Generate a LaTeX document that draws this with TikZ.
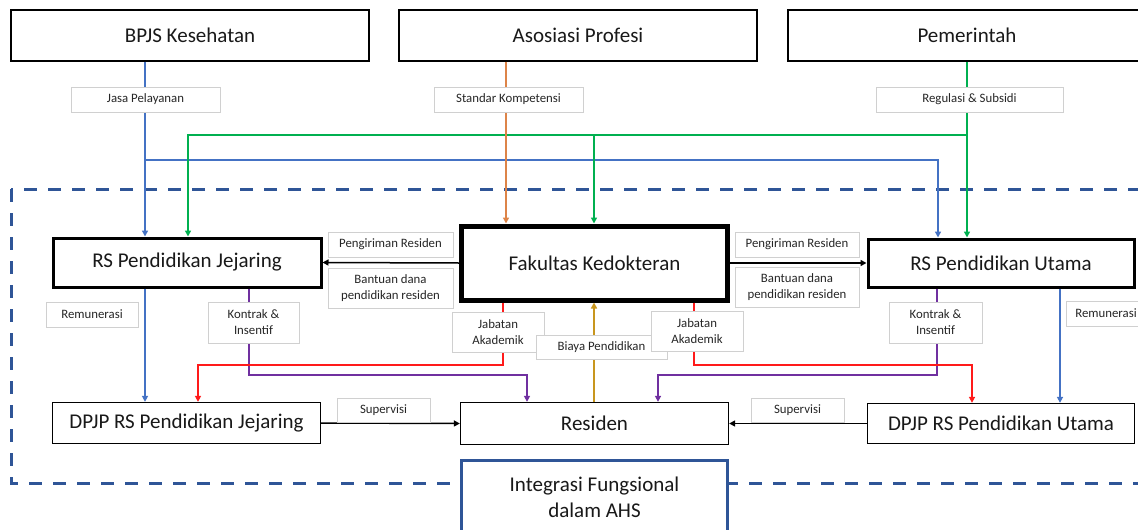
\documentclass[tikz,border=0pt]{standalone}
\usepackage{fontspec}
\setmainfont{Carlito}
\usetikzlibrary{arrows.meta,calc}
\definecolor{cb}{HTML}{4472C4}
\definecolor{cg}{HTML}{00B050}
\definecolor{co}{HTML}{DD8448}
\definecolor{cgold}{HTML}{C8961E}
\definecolor{cr}{HTML}{FF1A1A}
\definecolor{cp}{HTML}{7030A0}
\definecolor{dblue}{HTML}{2F5597}
\definecolor{labgray}{HTML}{D0D0D0}
\definecolor{labtext}{HTML}{262626}
\begin{document}
\begin{tikzpicture}[x=1pt,y=-1pt,
  box/.style={draw=black,line width=1.3pt,fill=white,inner sep=0pt,align=center,
    font=\fontsize{21}{26}\selectfont,text=black!90},
  rsbox/.style={box,line width=3pt},
  fkbox/.style={box,line width=5pt},
  intbox/.style={box,draw=dblue,line width=3pt},
  lab/.style={draw=labgray,line width=0.8pt,fill=white,inner sep=0pt,align=center,
    font=\fontsize{12.8}{16}\selectfont,text=labtext},
  arr/.style={-{Triangle[length=6pt,width=6pt]}},
  conn/.style={line width=1.5pt,arr}]
\useasboundingbox (0,0) rectangle (1138,530);
\clip (0,0) rectangle (1138,530);
% dashed frame
\draw[dblue,line width=3pt,dash pattern=on 13pt off 11pt] (11,189) rectangle (1170,483);
% main boxes
\node[box,minimum width=358pt,minimum height=51pt] (bpjs) at (190,35.5) {BPJS Kesehatan};
\node[box,minimum width=358pt,minimum height=51pt] (asos) at (578,35.5) {Asosiasi Profesi};
\node[box,minimum width=358pt,minimum height=51pt] (pem) at (967,35.5) {Pemerintah};
\node[rsbox,minimum width=268pt,minimum height=49pt] (rsj) at (187,262.5) {RS Pendidikan Jejaring};
\node[fkbox,minimum width=266pt,minimum height=74pt] (fk) at (594.5,263) {Fakultas Kedokteran};
\node[rsbox,minimum width=266pt,minimum height=48pt] (rsu) at (1001,263) {RS Pendidikan Utama};
\node[box,minimum width=268pt,minimum height=41pt] (dpjpj) at (186.5,423) {DPJP RS Pendidikan Jejaring};
\node[box,minimum width=268pt,minimum height=42pt] (res) at (594.5,423.5) {Residen};
\node[box,minimum width=267pt,minimum height=40pt] (dpjpu) at (1001,423.5) {DPJP RS Pendidikan Utama};
\node[intbox,minimum width=266pt,minimum height=74pt] (integ) at (594.5,497) {Integrasi Fungsional\\dalam AHS};
% column / row coordinates
\coordinate (xb1) at (145,0);
\coordinate (xg1) at (188,0);
\coordinate (xo) at (506,0);
\coordinate (xg2) at (594,0);
\coordinate (xb2) at (938,0);
\coordinate (xg3) at (967,0);
\coordinate (xp1) at (249,0);
\coordinate (xp1a) at (527,0);
\coordinate (xr1) at (503,0);
\coordinate (xr1a) at (198,0);
\coordinate (xr2) at (694,0);
\coordinate (xr2a) at (972,0);
\coordinate (xp2) at (937,0);
\coordinate (xp2a) at (658,0);
\coordinate (xb3) at (1060,0);
\coordinate (yb) at (0,160);
\coordinate (yg) at (0,135);
\coordinate (yr) at (0,365);
\coordinate (yp) at (0,375);
% connectors from the top
\draw[cb,conn] (bpjs.south -| xb1) -- (rsj.north -| xb1);
\draw[cb,conn] (xb1 |- yb) -- (xb2 |- yb) -- (rsu.north -| xb2);
\draw[cg,line width=2.4pt,arr] (pem.south -| xg3) -- (rsu.north -| xg3);
\draw[cg,line width=2.4pt,arr] (xg3 |- yg) -- (xg2 |- yg) -- (fk.north -| xg2);
\draw[cg,line width=1.5pt,arr] (xg2 |- yg) -- (xg1 |- yg) -- (rsj.north -| xg1);
\draw[co,conn] (asos.south -| xo) -- (fk.north -| xo);
% horizontal flows
\draw[black,conn] (fk.west) -- (rsj.east);
\draw[black,conn] (fk.east) -- (rsu.west);
\draw[black,conn] (dpjpj.east) -- (res.west);
\draw[black,conn] (dpjpu.west) -- (res.east);
% downward flows
\draw[cb,conn] (rsj.south -| xb1) -- (dpjpj.north -| xb1);
\draw[cb,conn] (rsu.south -| xb3) -- (dpjpu.north -| xb3);
\draw[cp,conn] (rsj.south -| xp1) |- (xp1a |- yp) -- (res.north -| xp1a);
\draw[cp,conn] (rsu.south -| xp2) |- (xp2a |- yp) -- (res.north -| xp2a);
\draw[cr,line width=1.8pt,arr] (fk.south -| xr1) |- (xr1a |- yr) -- (dpjpj.north -| xr1a);
\draw[cr,line width=1.8pt,arr] (fk.south -| xr2) |- (xr2a |- yr) -- (dpjpu.north -| xr2a);
\draw[cgold,conn] (res.north -| xg2) -- (fk.south -| xg2);
% labels
\node[lab,minimum width=149pt,minimum height=25pt] (ljasa) at (145.5,99.5) {Jasa Pelayanan};
\node[lab,minimum width=149pt,minimum height=25pt] (lstd) at (508.5,99.5) {Standar Kompetensi};
\node[lab,minimum width=187pt,minimum height=25pt] (lreg) at (969.5,99.5) {Regulasi \& Subsidi};
\node[lab,minimum width=125pt,minimum height=25pt] (lpengl) at (390.5,244.5) {Pengiriman Residen};
\node[lab,minimum width=125pt,minimum height=40pt] (lbantl) at (390.5,288) {Bantuan dana\\pendidikan residen};
\node[lab,minimum width=124pt,minimum height=25pt] (lpengr) at (797,244.5) {Pengiriman Residen};
\node[lab,minimum width=124pt,minimum height=40pt] (lbantr) at (797,287) {Bantuan dana\\pendidikan residen};
\node[lab,minimum width=92pt,minimum height=25pt] (lreml) at (92,314.5) {Remunerasi};
\node[lab,minimum width=91pt,minimum height=41pt] (lkonl) at (253.5,322.5) {Kontrak \&\\Insentif};
\node[lab,minimum width=92pt,minimum height=40pt] (ljabl) at (498,332) {Jabatan\\Akademik};
\node[lab,minimum width=131pt,minimum height=24pt] (lbiaya) at (601.5,347) {Biaya Pendidikan};
\node[lab,minimum width=92pt,minimum height=40pt] (ljabr) at (697,331) {Jabatan\\Akademik};
\node[lab,minimum width=93pt,minimum height=41pt] (lkonr) at (935.5,322.5) {Kontrak \&\\Insentif};
\node[lab,minimum width=80pt,minimum height=25pt] (lremr) at (1106,313.5) {Remunerasi};
\node[lab,minimum width=93pt,minimum height=24pt] (lsupl) at (383.5,410) {Supervisi};
\node[lab,minimum width=93pt,minimum height=24pt] (lsupr) at (797.5,410) {Supervisi};
\end{tikzpicture}
\end{document}
